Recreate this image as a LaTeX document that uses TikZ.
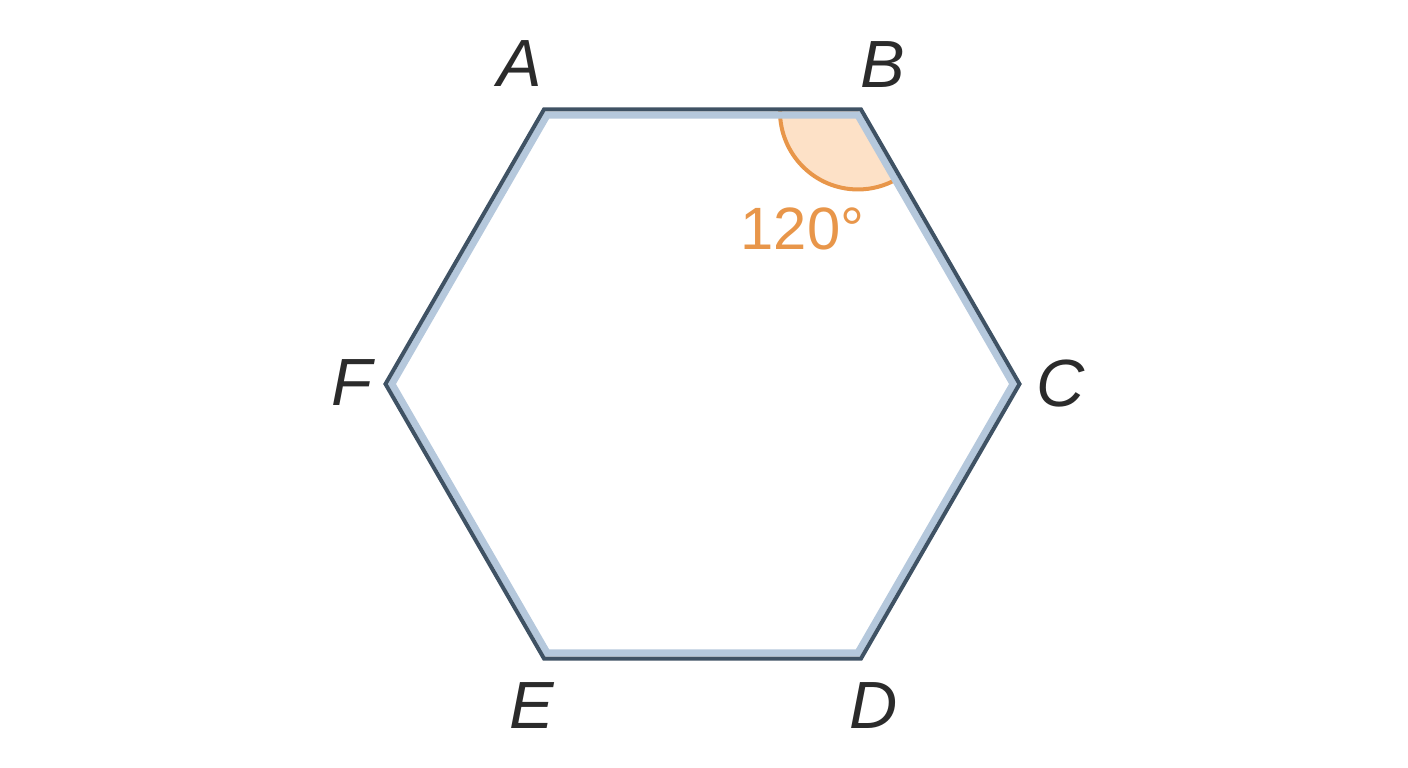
\documentclass[tikz,border=0pt]{standalone}
\usepackage{fontspec}
\setmainfont{Liberation Sans}
\usetikzlibrary{calc}

\definecolor{hexdark}{HTML}{3F5264}
\definecolor{hexlight}{HTML}{B5C8DC}
\definecolor{angleorange}{HTML}{E8964A}
\definecolor{anglefill}{HTML}{FDE1C7}
\definecolor{labelgray}{HTML}{2B2B2B}

\begin{document}
\begin{tikzpicture}[
    vertexlabel/.style={text=labelgray, font=\fontsize{19}{19}\selectfont\itshape, inner sep=0pt},
    anglelabel/.style={text=angleorange, font=\fontsize{17}{17}\selectfont, inner sep=0pt}
]
\useasboundingbox (0,0) rectangle (14.08,7.68);

% Centre of the hexagon
\coordinate (O) at (7.025,3.84);

% Corners of the dark outline and of the light band inside it
\foreach \v/\a in {A/120,B/60,C/0,D/300,E/240,F/180}{
    \coordinate (\v) at ($(O)+(\a:3.17)$);
    \coordinate (in\v) at ($(O)+(\a:3.106)$);
}

% Angle at B
\coordinate (angC) at ($(B)+(-0.03,-0.02)$);
\fill[anglefill] (angC) -- ++(180:0.78) arc[start angle=180, end angle=300, radius=0.78] -- cycle;
\draw[angleorange, line width=0.04cm] ([shift={(180:0.78)}]angC) arc[start angle=180, end angle=300, radius=0.78];

% Hexagon: light band first, dark outline on top
\draw[hexlight, line width=0.07cm] (inA) -- (inB) -- (inC) -- (inD) -- (inE) -- (inF) -- cycle;
\draw[hexdark, line width=0.04cm] (A) -- (B) -- (C) -- (D) -- (E) -- (F) -- cycle;

% Vertex labels
\foreach \v/\dx/\dy in {A/-0.24/0.455, B/0.215/0.445, C/0.415/0, D/0.125/-0.47, E/-0.12/-0.47, F/-0.34/0.015}
    \node[vertexlabel] (lab\v) at ($(\v)+(\dx,\dy)$) {\v};

% Size of the angle
\node[anglelabel] (angB) at ($(B)+(-0.585,-1.19)$) {120°};
\end{tikzpicture}
\end{document}
